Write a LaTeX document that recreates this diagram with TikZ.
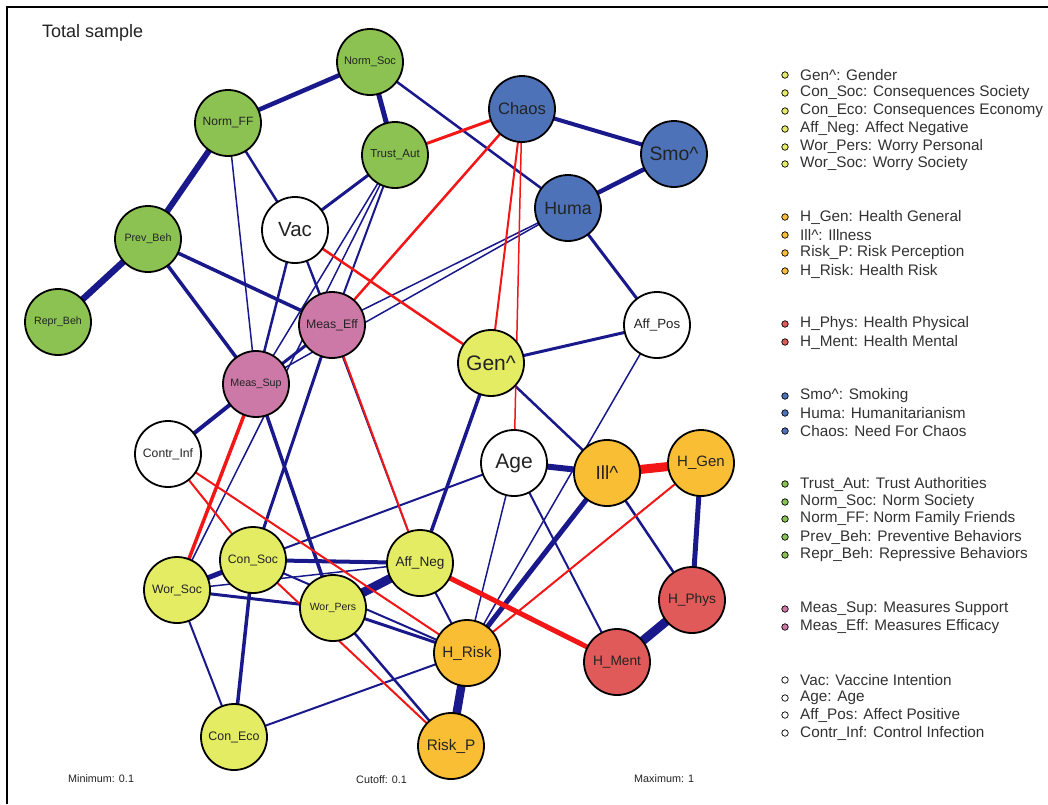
\documentclass[tikz,border=0pt]{standalone}
\usepackage{fontspec}
\setmainfont{Liberation Sans}
\pgfdeclarelayer{bg}
\pgfsetlayers{bg,main}
\definecolor{pos}{RGB}{25,25,140}
\definecolor{neg}{RGB}{242,22,22}
\definecolor{cgreen}{RGB}{139,194,82}
\definecolor{cblue}{RGB}{77,114,184}
\definecolor{cpink}{RGB}{204,121,167}
\definecolor{cyel}{RGB}{228,236,100}
\definecolor{corange}{RGB}{250,190,52}
\definecolor{cred}{RGB}{224,90,90}
\definecolor{txt}{RGB}{35,35,35}
\definecolor{legtxt}{RGB}{50,50,50}
\newcommand\nodefs[1]{\fontsize{#1}{#1}\selectfont}
\begin{document}
\begin{tikzpicture}[x=1pt,y=-1pt,
  vnode/.style={circle,draw=black,line width=1.8pt,minimum size=66pt,inner sep=0pt,text=txt},
  pe/.style={draw=pos,line width=#1pt},
  ne/.style={draw=neg,line width=#1pt},
  bul/.style={circle,draw=black,line width=0.7pt,minimum size=6.5pt,inner sep=0pt},
  leg/.style={anchor=west,inner sep=0pt,text=legtxt,font=\nodefs{15.3}},
  small/.style={anchor=west,inner sep=0pt,text=txt,font=\nodefs{10.8}}]
\useasboundingbox (0,0) rectangle (1048,804);
\begin{pgfonlayer}{bg}
\fill[white] (0,0) rectangle (1048,804);
\end{pgfonlayer}
\draw[line width=2pt] (7,804) -- (7,7) -- (1048,7);
\node[anchor=west,inner sep=0pt,text=txt,font=\nodefs{18}] (title) at (42,33) {Total sample};
% nodes
\node[vnode,fill=cgreen,font=\nodefs{11}] (NormSoc) at (370,62) {Norm\_Soc};
\node[vnode,fill=cgreen,font=\nodefs{12}] (NormFF) at (228,123) {Norm\_FF};
\node[vnode,fill=cgreen,font=\nodefs{11.5}] (TrustAut) at (395,155) {Trust\_Aut};
\node[vnode,fill=cgreen,font=\nodefs{10.7}] (PrevBeh) at (148,239) {Prev\_Beh};
\node[vnode,fill=cgreen,font=\nodefs{10.6}] (ReprBeh) at (58,322) {Repr\_Beh};
\node[vnode,fill=cblue,font=\nodefs{16.6}] (Chaos) at (522,109) {Chaos};
\node[vnode,fill=cblue,font=\nodefs{19.4}] (Smo) at (674,154) {Smo\textasciicircum};
\node[vnode,fill=cblue,font=\nodefs{17.7}] (Huma) at (568,208) {Huma};
\node[vnode,fill=white,font=\nodefs{20.5}] (Vac) at (295,230) {Vac};
\node[vnode,fill=cpink,font=\nodefs{12.3}] (MeasEff) at (332,325) {Meas\_Eff};
\node[vnode,fill=cpink,font=\nodefs{10.7}] (MeasSup) at (256,384) {Meas\_Sup};
\node[vnode,fill=white,font=\nodefs{12.2}] (ContrInf) at (168,454) {Contr\_Inf};
\node[vnode,fill=white,font=\nodefs{13.3}] (AffPos) at (657,325) {Aff\_Pos};
\node[vnode,fill=cyel,font=\nodefs{21}] (Gen) at (491,363) {Gen\textasciicircum};
\node[vnode,fill=white,font=\nodefs{21}] (Age) at (514,463) {Age};
\node[vnode,fill=corange,font=\nodefs{19}] (Ill) at (607,473) {Ill\textasciicircum};
\node[vnode,fill=corange,font=\nodefs{15}] (HGen) at (701,463) {H\_Gen};
\node[vnode,fill=cyel,font=\nodefs{12.2}] (ConSoc) at (253,560) {Con\_Soc};
\node[vnode,fill=cyel,font=\nodefs{12.2}] (WorSoc) at (177,590) {Wor\_Soc};
\node[vnode,fill=cyel,font=\nodefs{13.6}] (AffNeg) at (420,563) {Aff\_Neg};
\node[vnode,fill=cyel,font=\nodefs{10.5}] (WorPers) at (333,608) {Wor\_Pers};
\node[vnode,fill=corange,font=\nodefs{15.3}] (HRisk) at (467,653) {H\_Risk};
\node[vnode,fill=corange,font=\nodefs{15.3}] (RiskP) at (451,746) {Risk\_P};
\node[vnode,fill=cyel,font=\nodefs{12.4}] (ConEco) at (234,737) {Con\_Eco};
\node[vnode,fill=cred,font=\nodefs{13.7}] (HPhys) at (692,600) {H\_Phys};
\node[vnode,fill=cred,font=\nodefs{13.7}] (HMent) at (617,662) {H\_Ment};
% edges
\begin{pgfonlayer}{bg}
\draw[pe=4.5] (NormFF.center) -- (NormSoc.center);
\draw[pe=5] (NormSoc.center) -- (TrustAut.center);
\draw[pe=6] (NormFF.center) -- (PrevBeh.center);
\draw[pe=6.5] (PrevBeh.center) -- (ReprBeh.center);
\draw[pe=2.5] (NormFF.center) -- (Vac.center);
\draw[pe=1.5] (NormFF.center) -- (MeasSup.center);
\draw[pe=3.5] (PrevBeh.center) -- (MeasEff.center);
\draw[pe=3.5] (PrevBeh.center) -- (MeasSup.center);
\draw[pe=3] (Vac.center) -- (TrustAut.center);
\draw[pe=2] (TrustAut.center) -- (MeasEff.center);
\draw[pe=1.5] (TrustAut.center) -- (WorSoc.center);
\draw[pe=1.5] (TrustAut.center) -- (MeasSup.center);
\draw[pe=2.5] (Vac.center) -- (MeasSup.center);
\draw[pe=2] (Vac.center) -- (MeasEff.center);
\draw[pe=1.5] (Vac.center) -- (AffNeg.center);
\draw[pe=2.5] (NormSoc.center) -- (Huma.center);
\draw[pe=4] (Chaos.center) -- (Smo.center);
\draw[pe=4.5] (Smo.center) -- (Huma.center);
\draw[pe=3] (Huma.center) -- (AffPos.center);
\draw[pe=1.5] (MeasEff.center) -- (Huma.center);
\draw[pe=1.5] (MeasSup.center) -- (Huma.center);
\draw[pe=3] (MeasSup.center) -- (MeasEff.center);
\draw[pe=3] (AffPos.center) -- (Gen.center);
\draw[pe=1.5] (AffPos.center) -- (HRisk.center);
\draw[pe=2.5] (Gen.center) -- (Ill.center);
\draw[pe=3.5] (Gen.center) -- (AffNeg.center);
\draw[pe=6] (Age.center) -- (Ill.center);
\draw[pe=2] (Age.center) -- (ConSoc.center);
\draw[pe=2] (Age.center) -- (HMent.center);
\draw[pe=1.5] (Age.center) -- (HRisk.center);
\draw[pe=2.5] (Ill.center) -- (HPhys.center);
\draw[pe=5] (HGen.center) -- (HPhys.center);
\draw[pe=9] (HPhys.center) -- (HMent.center);
\draw[pe=5] (Ill.center) -- (HRisk.center);
\draw[pe=3] (MeasEff.center) -- (ConSoc.center);
\draw[pe=3.5] (MeasSup.center) -- (WorPers.center);
\draw[pe=4] (MeasSup.center) -- (ContrInf.center);
\draw[pe=5] (ConSoc.center) -- (WorSoc.center);
\draw[pe=4] (ConSoc.center) -- (AffNeg.center);
\draw[pe=3.5] (ConSoc.center) -- (ConEco.center);
\draw[pe=2] (WorSoc.center) -- (ConEco.center);
\draw[pe=3] (WorSoc.center) -- (WorPers.center);
\draw[pe=1.5] (WorSoc.center) -- (AffNeg.center);
\draw[pe=9] (WorPers.center) -- (AffNeg.center);
\draw[pe=3] (WorPers.center) -- (HRisk.center);
\draw[pe=2] (ConSoc.center) -- (HRisk.center);
\draw[pe=2.5] (WorPers.center) -- (RiskP.center);
\draw[pe=8.5] (HRisk.center) -- (RiskP.center);
\draw[pe=2] (HRisk.center) -- (ConEco.center);
\draw[pe=2] (AffNeg.center) -- (HRisk.center);
\draw[ne=3] (TrustAut.center) -- (Chaos.center);
\draw[ne=2.5] (Chaos.center) -- (MeasEff.center);
\draw[ne=2] (Chaos.center) -- (Gen.center);
\draw[ne=1.5] (Chaos.center) -- (Age.center);
\draw[ne=2.5] (Vac.center) -- (Gen.center);
\draw[ne=3.5] (MeasSup.center) -- (WorSoc.center);
\draw[ne=2] (ContrInf.center) -- (ConSoc.center);
\draw[ne=2] (ContrInf.center) -- (HRisk.center);
\draw[ne=2] (ConSoc.center) -- (RiskP.center);
\draw[ne=5] (AffNeg.center) -- (HMent.center);
\draw[ne=9] (Ill.center) -- (HGen.center);
\draw[ne=2] (HGen.center) -- (HRisk.center);
\draw[ne=2] (MeasEff.center) -- (AffNeg.center);
\end{pgfonlayer}
% legend
\node[bul,fill=cyel] (b1) at (785,75) {};   \node[leg] (l1) at (800,75) {Gen\textasciicircum: Gender};
\node[bul,fill=cyel] (b2) at (785,93) {};   \node[leg] (l2) at (800,93) {Con\_Soc: Consequences Society};
\node[bul,fill=cyel] (b3) at (785,111) {};  \node[leg] (l3) at (800,111) {Con\_Eco: Consequences Economy};
\node[bul,fill=cyel] (b4) at (785,129) {};  \node[leg] (l4) at (800,129) {Aff\_Neg: Affect Negative};
\node[bul,fill=cyel] (b5) at (785,147) {};  \node[leg] (l5) at (800,147) {Wor\_Pers: Worry Personal};
\node[bul,fill=cyel] (b6) at (785,164) {};  \node[leg] (l6) at (800,164) {Wor\_Soc: Worry Society};
\node[bul,fill=corange] (b7) at (785,217) {};  \node[leg] (l7) at (800,217) {H\_Gen: Health General};
\node[bul,fill=corange] (b8) at (785,235) {};  \node[leg] (l8) at (800,235) {Ill\textasciicircum: Illness};
\node[bul,fill=corange] (b9) at (785,253) {};  \node[leg] (l9) at (800,253) {Risk\_P: Risk Perception};
\node[bul,fill=corange] (b10) at (785,271) {}; \node[leg] (l10) at (800,271) {H\_Risk: Health Risk};
\node[bul,fill=cred] (b11) at (785,324) {}; \node[leg] (l11) at (800,324) {H\_Phys: Health Physical};
\node[bul,fill=cred] (b12) at (785,342) {}; \node[leg] (l12) at (800,342) {H\_Ment: Health Mental};
\node[bul,fill=cblue] (b13) at (785,396) {}; \node[leg] (l13) at (800,396) {Smo\textasciicircum: Smoking};
\node[bul,fill=cblue] (b14) at (785,413) {}; \node[leg] (l14) at (800,413) {Huma: Humanitarianism};
\node[bul,fill=cblue] (b15) at (785,431) {}; \node[leg] (l15) at (800,431) {Chaos: Need For Chaos};
\node[bul,fill=cgreen] (b16) at (785,484) {}; \node[leg] (l16) at (800,484) {Trust\_Aut: Trust Authorities};
\node[bul,fill=cgreen] (b17) at (785,502) {}; \node[leg] (l17) at (800,502) {Norm\_Soc: Norm Society};
\node[bul,fill=cgreen] (b18) at (785,519) {}; \node[leg] (l18) at (800,519) {Norm\_FF: Norm Family Friends};
\node[bul,fill=cgreen] (b19) at (785,537) {}; \node[leg] (l19) at (800,537) {Prev\_Beh: Preventive Behaviors};
\node[bul,fill=cgreen] (b20) at (785,555) {}; \node[leg] (l20) at (800,555) {Repr\_Beh: Repressive Behaviors};
\node[bul,fill=cpink] (b21) at (785,609) {}; \node[leg] (l21) at (800,609) {Meas\_Sup: Measures Support};
\node[bul,fill=cpink] (b22) at (785,627) {}; \node[leg] (l22) at (800,627) {Meas\_Eff: Measures Efficacy};
\node[bul,fill=white] (b23) at (785,680) {}; \node[leg] (l23) at (800,680) {Vac: Vaccine Intention};
\node[bul,fill=white] (b24) at (785,698) {}; \node[leg] (l24) at (800,698) {Age: Age};
\node[bul,fill=white] (b25) at (785,715) {}; \node[leg] (l25) at (800,715) {Aff\_Pos: Affect Positive};
\node[bul,fill=white] (b26) at (785,733) {}; \node[leg] (l26) at (800,733) {Contr\_Inf: Control Infection};
% bottom
\node[small] (mn) at (68,779) {Minimum: 0.1};
\node[small] (co) at (356,780) {Cutoff: 0.1};
\node[small] (mx) at (634,779) {Maximum: 1};
\end{tikzpicture}
\end{document}
